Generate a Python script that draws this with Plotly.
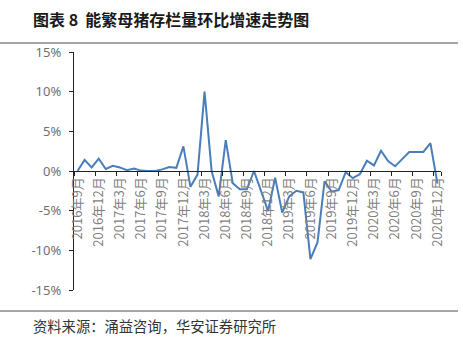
import plotly.graph_objects as go

# Monthly categories, 2016-09 .. 2020-12
months = [f"{y}年{m}月" for y in range(2016, 2021) for m in range(1, 13)
          if (y, m) >= (2016, 9)]

# Month-on-month change of breeding-sow inventory (%)
mom_change = [
    0.0, 1.4, 0.45, 1.55, 0.25, 0.65, 0.45, 0.1, 0.3, 0.05, 0.0, 0.0,   # 2016-09 .. 2017-08
    0.2, 0.5, 0.4, 3.1, -2.0, -0.45, 10.0, 0.0, -3.2, 3.9, -1.55, -2.3,  # 2017-09 .. 2018-08
    -2.3, 0.0, -2.5, -5.05, -0.85, -5.25, -3.2, -2.5, -2.7, -11.1, -9.0, -1.3,  # 2018-09 .. 2019-08
    -2.6, -2.4, -0.15, -0.9, -0.4, 1.3, 0.7, 2.55, 1.25, 0.6, 1.5, 2.4,  # 2019-09 .. 2020-08
    2.4, 2.4, 3.5, -1.6,                                                 # 2020-09 .. 2020-12
]

y_ticks = [15, 10, 5, 0, -5, -10, -15]
y_tick_text = [f"{v}%" for v in y_ticks]

title_text = "图表\u00a08\u00a0\u00a0能繁母猪存栏量环比增速走势图"
source_text = "资料来源：涌益咨询，华安证券研究所"

# Plot area in pixels
L, R, T, B = 74, 441, 52, 290
W, H = R - L, B - T


def px_x(px):
    return (px - L) / W


def px_y(py):
    return (B - py) / H


fig = go.Figure()
fig.add_trace(go.Scatter(
    x=months, y=mom_change, mode="lines",
    line=dict(color="#4A7EBB", width=2),
    hoverinfo="skip", showlegend=False,
))

fig.update_layout(
    width=463, height=340, autosize=False,
    margin=dict(l=L, r=463 - R, t=T, b=340 - B),
    paper_bgcolor="white", plot_bgcolor="white",
    xaxis=dict(
        type="category", range=[-0.5, len(months) - 0.5],
        anchor="free", position=0.5,
        showline=True, linecolor="#222222", linewidth=1.3,
        showgrid=False, zeroline=False,
        tickmode="array", tickvals=months[::3], ticktext=months[::3],
        tickson="boundaries", ticks="outside", ticklen=4, tickcolor="#222222",
        tickangle=-90,
        tickfont=dict(family="Noto Sans CJK SC", size=13, color="#7F7F7F"),
    ),
    yaxis=dict(
        range=[-15, 15], showline=True, linecolor="#222222", linewidth=1.3,
        showgrid=False, zeroline=False,
        tickmode="array", tickvals=y_ticks, ticktext=y_tick_text,
        ticks="outside", ticklen=4, tickcolor="#222222",
        tickfont=dict(family="Noto Sans", size=13, color="#6F6F6F"),
        ticklabelstandoff=5,
    ),
    shapes=[
        dict(type="line", xref="paper", yref="paper",
             x0=px_x(0), x1=px_x(458), y0=px_y(43), y1=px_y(43),
             line=dict(color="#4D4D4D", width=1)),
        dict(type="line", xref="paper", yref="paper",
             x0=px_x(0), x1=px_x(458), y0=px_y(311), y1=px_y(311),
             line=dict(color="#4D4D4D", width=1)),
    ],
    annotations=[
        dict(text=f"<b>{title_text}</b>", xref="paper", yref="paper",
             x=px_x(31), y=px_y(19), xanchor="left", yanchor="middle",
             showarrow=False,
             font=dict(family="Noto Sans CJK SC", size=16, color="#1A1A1A")),
        dict(text=source_text, xref="paper", yref="paper",
             x=px_x(31), y=px_y(325), xanchor="left", yanchor="middle",
             showarrow=False,
             font=dict(family="Noto Sans CJK SC", size=14.3, color="#333333")),
    ],
)

fig.write_html("out.html")
